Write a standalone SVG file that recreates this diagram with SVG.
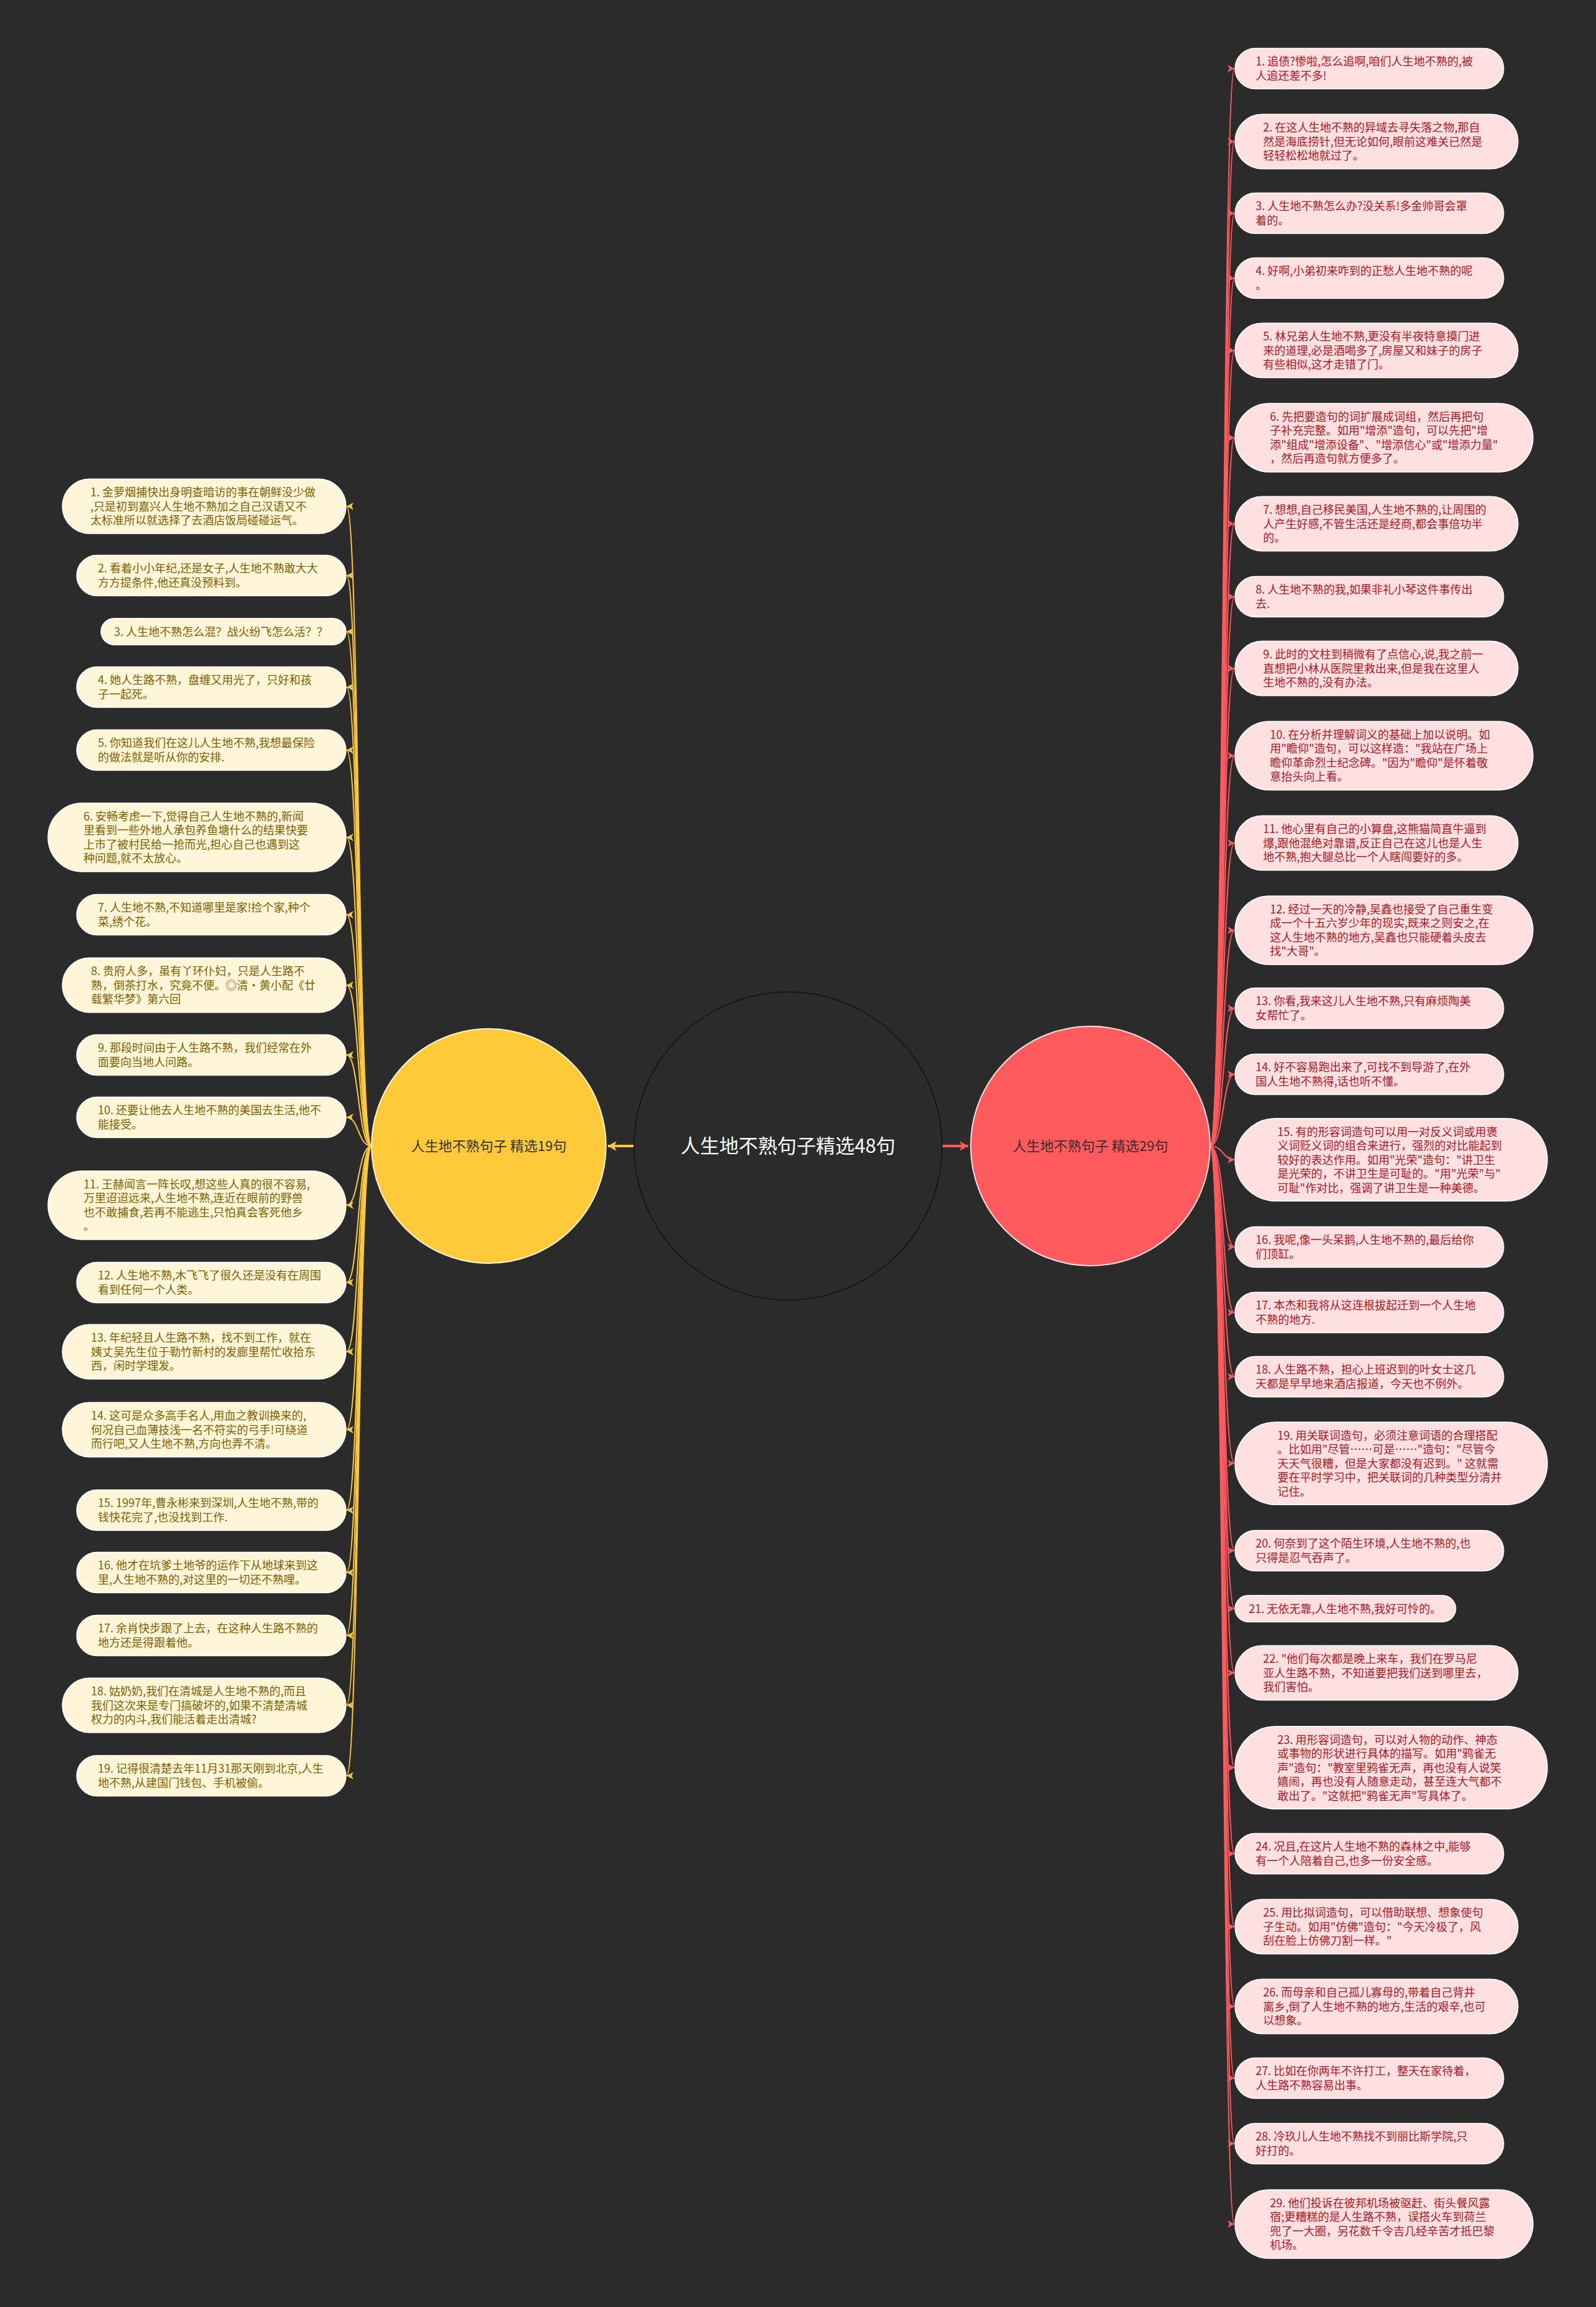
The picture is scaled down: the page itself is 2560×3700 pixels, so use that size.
<svg xmlns="http://www.w3.org/2000/svg" width="2560" height="3700" viewBox="0 0 2560 3700">
<defs>
<style>
text{font-family:"Noto Sans CJK SC","Noto Sans",sans-serif;}
.lt{font-size:18px;fill:#7f5f00;}
.rt{font-size:18px;fill:#b0161e;}
.lb{fill:#fff5d8;stroke:#ffffff;stroke-width:1.5;}
.rb{fill:#ffe0e0;stroke:#ffffff;stroke-width:1.5;}
.lc{fill:none;stroke:#ffc93c;stroke-width:2;marker-end:url(#ay);}
.rc{fill:none;stroke:#ff5a5f;stroke-width:2;marker-end:url(#ar);}
</style>
<marker id="ay" markerUnits="userSpaceOnUse" markerWidth="12" markerHeight="12" refX="11" refY="6" orient="auto"><path d="M0,0 L11,6 L0,12 L3,6 z" fill="#ffc93c"/></marker>
<marker id="ar" markerUnits="userSpaceOnUse" markerWidth="12" markerHeight="12" refX="11" refY="6" orient="auto"><path d="M0,0 L11,6 L0,12 L3,6 z" fill="#ff5a5f"/></marker>
<marker id="ay2" markerUnits="userSpaceOnUse" markerWidth="16" markerHeight="16" refX="14" refY="8" orient="auto"><path d="M0,0 L14,8 L0,16 L4,8 z" fill="#ffc93c"/></marker>
<marker id="ar2" markerUnits="userSpaceOnUse" markerWidth="16" markerHeight="16" refX="14" refY="8" orient="auto"><path d="M0,0 L14,8 L0,16 L4,8 z" fill="#ff5a5f"/></marker>
</defs>
<rect x="0" y="0" width="2560" height="3700" fill="#2b2b2b"/>

<g id="connectors">
<line x1="1017" y1="1838" x2="975" y2="1838" stroke="#ffc93c" stroke-width="4" marker-end="url(#ay2)"/>
<line x1="1511" y1="1838" x2="1553" y2="1838" stroke="#ff5a5f" stroke-width="4" marker-end="url(#ar2)"/>
<path class="lc" d="M596,1838 C574,1838 576,812 556,812"/>
<path class="lc" d="M596,1838 C574,1838 576,923 556,923"/>
<path class="lc" d="M596,1838 C574,1838 576,1013 556,1013"/>
<path class="lc" d="M596,1838 C574,1838 576,1102 556,1102"/>
<path class="lc" d="M596,1838 C574,1838 576,1203 556,1203"/>
<path class="lc" d="M596,1838 C574,1838 576,1343 556,1343"/>
<path class="lc" d="M596,1838 C574,1838 576,1467 556,1467"/>
<path class="lc" d="M596,1838 C574,1838 576,1580 556,1580"/>
<path class="lc" d="M596,1838 C574,1838 576,1692 556,1692"/>
<path class="lc" d="M596,1838 C574,1838 576,1792 556,1792"/>
<path class="lc" d="M596,1838 C574,1838 576,1933 556,1933"/>
<path class="lc" d="M596,1838 C574,1838 576,2057 556,2057"/>
<path class="lc" d="M596,1838 C574,1838 576,2168 556,2168"/>
<path class="lc" d="M596,1838 C574,1838 576,2293 556,2293"/>
<path class="lc" d="M596,1838 C574,1838 576,2422 556,2422"/>
<path class="lc" d="M596,1838 C574,1838 576,2522 556,2522"/>
<path class="lc" d="M596,1838 C574,1838 576,2623 556,2623"/>
<path class="lc" d="M596,1838 C574,1838 576,2735 556,2735"/>
<path class="lc" d="M596,1838 C574,1838 576,2848 556,2848"/>
<path class="rc" d="M1941,1838 C1963,1838 1961,110 1980,110"/>
<path class="rc" d="M1941,1838 C1963,1838 1961,227 1980,227"/>
<path class="rc" d="M1941,1838 C1963,1838 1961,342 1980,342"/>
<path class="rc" d="M1941,1838 C1963,1838 1961,446 1980,446"/>
<path class="rc" d="M1941,1838 C1963,1838 1961,562 1980,562"/>
<path class="rc" d="M1941,1838 C1963,1838 1961,702 1980,702"/>
<path class="rc" d="M1941,1838 C1963,1838 1961,840 1980,840"/>
<path class="rc" d="M1941,1838 C1963,1838 1961,957 1980,957"/>
<path class="rc" d="M1941,1838 C1963,1838 1961,1072 1980,1072"/>
<path class="rc" d="M1941,1838 C1963,1838 1961,1212 1980,1212"/>
<path class="rc" d="M1941,1838 C1963,1838 1961,1352 1980,1352"/>
<path class="rc" d="M1941,1838 C1963,1838 1961,1492 1980,1492"/>
<path class="rc" d="M1941,1838 C1963,1838 1961,1617 1980,1617"/>
<path class="rc" d="M1941,1838 C1963,1838 1961,1723 1980,1723"/>
<path class="rc" d="M1941,1838 C1963,1838 1961,1860 1980,1860"/>
<path class="rc" d="M1941,1838 C1963,1838 1961,2000 1980,2000"/>
<path class="rc" d="M1941,1838 C1963,1838 1961,2105 1980,2105"/>
<path class="rc" d="M1941,1838 C1963,1838 1961,2208 1980,2208"/>
<path class="rc" d="M1941,1838 C1963,1838 1961,2347 1980,2347"/>
<path class="rc" d="M1941,1838 C1963,1838 1961,2487 1980,2487"/>
<path class="rc" d="M1941,1838 C1963,1838 1961,2580 1980,2580"/>
<path class="rc" d="M1941,1838 C1963,1838 1961,2683 1980,2683"/>
<path class="rc" d="M1941,1838 C1963,1838 1961,2835 1980,2835"/>
<path class="rc" d="M1941,1838 C1963,1838 1961,2973 1980,2973"/>
<path class="rc" d="M1941,1838 C1963,1838 1961,3090 1980,3090"/>
<path class="rc" d="M1941,1838 C1963,1838 1961,3218 1980,3218"/>
<path class="rc" d="M1941,1838 C1963,1838 1961,3333 1980,3333"/>
<path class="rc" d="M1941,1838 C1963,1838 1961,3438 1980,3438"/>
<path class="rc" d="M1941,1838 C1963,1838 1961,3567 1980,3567"/>
</g>

<g id="root">
<circle cx="1264" cy="1838" r="247" fill="#2b2b2b" stroke="#111111" stroke-width="1.5"/>
<text x="1264" y="1849" text-anchor="middle" font-size="31" fill="#ffffff">人生地不熟句子精选48句</text>
</g>
<g id="branch-left">
<circle cx="784" cy="1838" r="188" fill="#ffca3a" stroke="#fff3d0" stroke-width="2"/>
<text x="784" y="1846" text-anchor="middle" font-size="22" fill="#333333">人生地不熟句子  精选19句</text>
</g>
<g id="branch-right">
<circle cx="1749" cy="1838" r="192" fill="#ff5b5f" stroke="#ffe0e0" stroke-width="2"/>
<text x="1749" y="1846" text-anchor="middle" font-size="22" fill="#3a2a2a">人生地不熟句子  精选29句</text>
</g>

<g id="l1"><rect class="lb" x="100" y="768.2" width="455" height="87.5" rx="43.7"/><text class="lt" x="145" y="796"><tspan x="145">1. 金萝烟捕快出身明查暗访的事在朝鲜没少做</tspan><tspan x="145" dy="22.5">,只是初到嘉兴人生地不熟加之自己汉语又不</tspan><tspan x="145" dy="22.5">太标准所以就选择了去酒店饭局碰碰运气。</tspan></text></g>
<g id="l2"><rect class="lb" x="123" y="890.5" width="432" height="65" rx="32.5"/><text class="lt" x="157" y="918.2"><tspan x="157">2. 看着小小年纪,还是女子,人生地不熟敢大大</tspan><tspan x="157" dy="22.5">方方提条件,他还真没预料到。</tspan></text></g>
<g id="l3"><rect class="lb" x="162" y="991.7" width="393" height="42.5" rx="21.2"/><text class="lt" x="183" y="1019.5">3. 人生地不熟怎么混？战火纷飞怎么活？？</text></g>
<g id="l4"><rect class="lb" x="123" y="1069.5" width="432" height="65" rx="32.5"/><text class="lt" x="157" y="1097.2"><tspan x="157">4. 她人生路不熟，盘缠又用光了，只好和孩</tspan><tspan x="157" dy="22.5">子一起死。</tspan></text></g>
<g id="l5"><rect class="lb" x="123" y="1170.5" width="432" height="65" rx="32.5"/><text class="lt" x="157" y="1198.2"><tspan x="157">5. 你知道我们在这儿人生地不熟,我想最保险</tspan><tspan x="157" dy="22.5">的做法就是听从你的安排.</tspan></text></g>
<g id="l6"><rect class="lb" x="77" y="1288" width="478" height="110" rx="55"/><text class="lt" x="134" y="1315.7"><tspan x="134">6. 安畅考虑一下,觉得自己人生地不熟的,新闻</tspan><tspan x="134" dy="22.5">里看到一些外地人承包养鱼塘什么的结果快要</tspan><tspan x="134" dy="22.5">上市了被村民给一抢而光,担心自己也遇到这</tspan><tspan x="134" dy="22.5">种问题,就不太放心。</tspan></text></g>
<g id="l7"><rect class="lb" x="123" y="1434.5" width="432" height="65" rx="32.5"/><text class="lt" x="157" y="1462.2"><tspan x="157">7. 人生地不熟,不知道哪里是家!捡个家,种个</tspan><tspan x="157" dy="22.5">菜,绣个花。</tspan></text></g>
<g id="l8"><rect class="lb" x="100" y="1536.2" width="455" height="87.5" rx="43.7"/><text class="lt" x="146" y="1564"><tspan x="146">8. 贵府人多，虽有丫环仆妇，只是人生路不</tspan><tspan x="146" dy="22.5">熟，倒茶打水，究竟不便。◎清·黄小配《廿</tspan><tspan x="146" dy="22.5">载繁华梦》第六回</tspan></text></g>
<g id="l9"><rect class="lb" x="123" y="1659.5" width="432" height="65" rx="32.5"/><text class="lt" x="157" y="1687.2"><tspan x="157">9. 那段时间由于人生路不熟，我们经常在外</tspan><tspan x="157" dy="22.5">面要向当地人问路。</tspan></text></g>
<g id="l10"><rect class="lb" x="123" y="1759.5" width="432" height="65" rx="32.5"/><text class="lt" x="157" y="1787.2"><tspan x="157">10. 还要让他去人生地不熟的美国去生活,他不</tspan><tspan x="157" dy="22.5">能接受。</tspan></text></g>
<g id="l11"><rect class="lb" x="77" y="1878" width="478" height="110" rx="55"/><text class="lt" x="134" y="1905.7"><tspan x="134">11. 王赫闻言一阵长叹,想这些人真的很不容易,</tspan><tspan x="134" dy="22.5">万里迢迢远来,人生地不熟,连近在眼前的野兽</tspan><tspan x="134" dy="22.5">也不敢捕食,若再不能逃生,只怕真会客死他乡</tspan><tspan x="134" dy="22.5">。</tspan></text></g>
<g id="l12"><rect class="lb" x="123" y="2024.5" width="432" height="65" rx="32.5"/><text class="lt" x="157" y="2052.2"><tspan x="157">12. 人生地不熟,木飞飞了很久还是没有在周围</tspan><tspan x="157" dy="22.5">看到任何一个人类。</tspan></text></g>
<g id="l13"><rect class="lb" x="100" y="2124.2" width="455" height="87.5" rx="43.7"/><text class="lt" x="146" y="2152"><tspan x="146">13. 年纪轻且人生路不熟，找不到工作，就在</tspan><tspan x="146" dy="22.5">姨丈吴先生位于勒竹新村的发廊里帮忙收拾东</tspan><tspan x="146" dy="22.5">西，闲时学理发。</tspan></text></g>
<g id="l14"><rect class="lb" x="100" y="2249.2" width="455" height="87.5" rx="43.7"/><text class="lt" x="146" y="2277"><tspan x="146">14. 这可是众多高手名人,用血之教训换来的,</tspan><tspan x="146" dy="22.5">何况自己血薄技浅一名不符实的弓手!可绕道</tspan><tspan x="146" dy="22.5">而行吧,又人生地不熟,方向也弄不清。</tspan></text></g>
<g id="l15"><rect class="lb" x="123" y="2389.5" width="432" height="65" rx="32.5"/><text class="lt" x="157" y="2417.2"><tspan x="157">15. 1997年,曹永彬来到深圳,人生地不熟,带的</tspan><tspan x="157" dy="22.5">钱快花完了,也没找到工作.</tspan></text></g>
<g id="l16"><rect class="lb" x="123" y="2489.5" width="432" height="65" rx="32.5"/><text class="lt" x="157" y="2517.2"><tspan x="157">16. 他才在坑爹土地爷的运作下从地球来到这</tspan><tspan x="157" dy="22.5">里,人生地不熟的,对这里的一切还不熟哩。</tspan></text></g>
<g id="l17"><rect class="lb" x="123" y="2590.5" width="432" height="65" rx="32.5"/><text class="lt" x="157" y="2618.2"><tspan x="157">17. 余肖快步跟了上去，在这种人生路不熟的</tspan><tspan x="157" dy="22.5">地方还是得跟着他。</tspan></text></g>
<g id="l18"><rect class="lb" x="100" y="2691.2" width="455" height="87.5" rx="43.7"/><text class="lt" x="146" y="2719"><tspan x="146">18. 姑奶奶,我们在清城是人生地不熟的,而且</tspan><tspan x="146" dy="22.5">我们这次来是专门搞破坏的,如果不清楚清城</tspan><tspan x="146" dy="22.5">权力的内斗,我们能活着走出清城?</tspan></text></g>
<g id="l19"><rect class="lb" x="123" y="2815.5" width="432" height="65" rx="32.5"/><text class="lt" x="157" y="2843.2"><tspan x="157">19. 记得很清楚去年11月31那天刚到北京,人生</tspan><tspan x="157" dy="22.5">地不熟,从建国门钱包、手机被偷。</tspan></text></g>

<g id="r1"><rect class="rb" x="1981" y="77.5" width="431" height="65" rx="32.5"/><text class="rt" y="105.2"><tspan x="2014">1. 追债?惨啦,怎么追啊,咱们人生地不熟的,被</tspan><tspan x="2014" dy="22.5">人追还差不多!</tspan></text></g>
<g id="r2"><rect class="rb" x="1981" y="183.2" width="454" height="87.5" rx="43.7"/><text class="rt" y="211"><tspan x="2026">2. 在这人生地不熟的异域去寻失落之物,那自</tspan><tspan x="2026" dy="22.5">然是海底捞针,但无论如何,眼前这难关已然是</tspan><tspan x="2026" dy="22.5">轻轻松松地就过了。</tspan></text></g>
<g id="r3"><rect class="rb" x="1981" y="309.5" width="431" height="65" rx="32.5"/><text class="rt" y="337.2"><tspan x="2014">3. 人生地不熟怎么办?没关系!多金帅哥会罩</tspan><tspan x="2014" dy="22.5">着的。</tspan></text></g>
<g id="r4"><rect class="rb" x="1981" y="413.5" width="431" height="65" rx="32.5"/><text class="rt" y="441.2"><tspan x="2014">4. 好啊,小弟初来咋到的正愁人生地不熟的呢</tspan><tspan x="2014" dy="22.5">。</tspan></text></g>
<g id="r5"><rect class="rb" x="1981" y="518.2" width="454" height="87.5" rx="43.7"/><text class="rt" y="546"><tspan x="2026">5. 林兄弟人生地不熟,更没有半夜特意摸门进</tspan><tspan x="2026" dy="22.5">来的道理,必是酒喝多了,房屋又和妹子的房子</tspan><tspan x="2026" dy="22.5">有些相似,这才走错了门。</tspan></text></g>
<g id="r6"><rect class="rb" x="1981" y="647" width="478" height="110" rx="55"/><text class="rt" y="674.7"><tspan x="2037">6. 先把要造句的词扩展成词组，然后再把句</tspan><tspan x="2037" dy="22.5">子补充完整。如用"增添"造句，可以先把"增</tspan><tspan x="2037" dy="22.5">添"组成"增添设备"、"增添信心"或"增添力量"</tspan><tspan x="2037" dy="22.5">，然后再造句就方便多了。</tspan></text></g>
<g id="r7"><rect class="rb" x="1981" y="796.2" width="454" height="87.5" rx="43.7"/><text class="rt" y="824"><tspan x="2026">7. 想想,自己移民美国,人生地不熟的,让周围的</tspan><tspan x="2026" dy="22.5">人产生好感,不管生活还是经商,都会事倍功半</tspan><tspan x="2026" dy="22.5">的。</tspan></text></g>
<g id="r8"><rect class="rb" x="1981" y="924.5" width="431" height="65" rx="32.5"/><text class="rt" y="952.2"><tspan x="2014">8. 人生地不熟的我,如果非礼小琴这件事传出</tspan><tspan x="2014" dy="22.5">去.</tspan></text></g>
<g id="r9"><rect class="rb" x="1981" y="1028.2" width="454" height="87.5" rx="43.7"/><text class="rt" y="1056"><tspan x="2026">9. 此时的文柱到稍微有了点信心,说,我之前一</tspan><tspan x="2026" dy="22.5">直想把小林从医院里救出来,但是我在这里人</tspan><tspan x="2026" dy="22.5">生地不熟的,没有办法。</tspan></text></g>
<g id="r10"><rect class="rb" x="1981" y="1157" width="478" height="110" rx="55"/><text class="rt" y="1184.7"><tspan x="2037">10. 在分析并理解词义的基础上加以说明。如</tspan><tspan x="2037" dy="22.5">用"瞻仰"造句，可以这样造："我站在广场上</tspan><tspan x="2037" dy="22.5">瞻仰革命烈士纪念碑。"因为"瞻仰"是怀着敬</tspan><tspan x="2037" dy="22.5">意抬头向上看。</tspan></text></g>
<g id="r11"><rect class="rb" x="1981" y="1308.2" width="454" height="87.5" rx="43.7"/><text class="rt" y="1336"><tspan x="2026">11. 他心里有自己的小算盘,这熊猫简直牛逼到</tspan><tspan x="2026" dy="22.5">爆,跟他混绝对靠谱,反正自己在这儿也是人生</tspan><tspan x="2026" dy="22.5">地不熟,抱大腿总比一个人瞎闯要好的多。</tspan></text></g>
<g id="r12"><rect class="rb" x="1981" y="1437" width="478" height="110" rx="55"/><text class="rt" y="1464.7"><tspan x="2037">12. 经过一天的冷静,吴鑫也接受了自己重生变</tspan><tspan x="2037" dy="22.5">成一个十五六岁少年的现实,既来之则安之,在</tspan><tspan x="2037" dy="22.5">这人生地不熟的地方,吴鑫也只能硬着头皮去</tspan><tspan x="2037" dy="22.5">找"大哥"。</tspan></text></g>
<g id="r13"><rect class="rb" x="1981" y="1584.5" width="431" height="65" rx="32.5"/><text class="rt" y="1612.2"><tspan x="2014">13. 你看,我来这儿人生地不熟,只有麻烦陶美</tspan><tspan x="2014" dy="22.5">女帮忙了。</tspan></text></g>
<g id="r14"><rect class="rb" x="1981" y="1690.5" width="431" height="65" rx="32.5"/><text class="rt" y="1718.2"><tspan x="2014">14. 好不容易跑出来了,可找不到导游了,在外</tspan><tspan x="2014" dy="22.5">国人生地不熟得,话也听不懂。</tspan></text></g>
<g id="r15"><rect class="rb" x="1981" y="1793.7" width="501" height="132.5" rx="66"/><text class="rt" y="1821.5"><tspan x="2049">15. 有的形容词造句可以用一对反义词或用褒</tspan><tspan x="2049" dy="22.5">义词贬义词的组合来进行，强烈的对比能起到</tspan><tspan x="2049" dy="22.5">较好的表达作用。如用"光荣"造句："讲卫生</tspan><tspan x="2049" dy="22.5">是光荣的，不讲卫生是可耻的。"用"光荣"与"</tspan><tspan x="2049" dy="22.5">可耻"作对比，强调了讲卫生是一种美德。</tspan></text></g>
<g id="r16"><rect class="rb" x="1981" y="1967.5" width="431" height="65" rx="32.5"/><text class="rt" y="1995.2"><tspan x="2014">16. 我呢,像一头呆鹅,人生地不熟的,最后给你</tspan><tspan x="2014" dy="22.5">们顶缸。</tspan></text></g>
<g id="r17"><rect class="rb" x="1981" y="2072.5" width="431" height="65" rx="32.5"/><text class="rt" y="2100.2"><tspan x="2014">17. 本杰和我将从这连根拔起迁到一个人生地</tspan><tspan x="2014" dy="22.5">不熟的地方.</tspan></text></g>
<g id="r18"><rect class="rb" x="1981" y="2175.5" width="431" height="65" rx="32.5"/><text class="rt" y="2203.2"><tspan x="2014">18. 人生路不熟，担心上班迟到的叶女士这几</tspan><tspan x="2014" dy="22.5">天都是早早地来酒店报道，今天也不例外。</tspan></text></g>
<g id="r19"><rect class="rb" x="1981" y="2280.7" width="501" height="132.5" rx="66"/><text class="rt" y="2308.5"><tspan x="2049">19. 用关联词造句，必须注意词语的合理搭配</tspan><tspan x="2049" dy="22.5">。比如用"尽管……可是……"造句："尽管今</tspan><tspan x="2049" dy="22.5">天天气很糟，但是大家都没有迟到。" 这就需</tspan><tspan x="2049" dy="22.5">要在平时学习中，把关联词的几种类型分清并</tspan><tspan x="2049" dy="22.5">记住。</tspan></text></g>
<g id="r20"><rect class="rb" x="1981" y="2454.5" width="431" height="65" rx="32.5"/><text class="rt" y="2482.2"><tspan x="2014">20. 何奈到了这个陌生环境,人生地不熟的,也</tspan><tspan x="2014" dy="22.5">只得是忍气吞声了。</tspan></text></g>
<g id="r21"><rect class="rb" x="1981" y="2558.7" width="354" height="42.5" rx="21.2"/><text class="rt" x="2003" y="2586.5">21. 无依无靠,人生地不熟,我好可怜的。</text></g>
<g id="r22"><rect class="rb" x="1981" y="2639.2" width="454" height="87.5" rx="43.7"/><text class="rt" y="2667"><tspan x="2026">22. "他们每次都是晚上来车，我们在罗马尼</tspan><tspan x="2026" dy="22.5">亚人生路不熟，不知道要把我们送到哪里去，</tspan><tspan x="2026" dy="22.5">我们害怕。</tspan></text></g>
<g id="r23"><rect class="rb" x="1981" y="2768.7" width="501" height="132.5" rx="66"/><text class="rt" y="2796.5"><tspan x="2049">23. 用形容词造句，可以对人物的动作、神态</tspan><tspan x="2049" dy="22.5">或事物的形状进行具体的描写。如用"鸦雀无</tspan><tspan x="2049" dy="22.5">声"造句："教室里鸦雀无声，再也没有人说笑</tspan><tspan x="2049" dy="22.5">嬉闹，再也没有人随意走动，甚至连大气都不</tspan><tspan x="2049" dy="22.5">敢出了。"这就把"鸦雀无声"写具体了。</tspan></text></g>
<g id="r24"><rect class="rb" x="1981" y="2940.5" width="431" height="65" rx="32.5"/><text class="rt" y="2968.2"><tspan x="2014">24. 况且,在这片人生地不熟的森林之中,能够</tspan><tspan x="2014" dy="22.5">有一个人陪着自己,也多一份安全感。</tspan></text></g>
<g id="r25"><rect class="rb" x="1981" y="3046.2" width="454" height="87.5" rx="43.7"/><text class="rt" y="3074"><tspan x="2026">25. 用比拟词造句，可以借助联想、想象使句</tspan><tspan x="2026" dy="22.5">子生动。如用"仿佛"造句："今天冷极了，风</tspan><tspan x="2026" dy="22.5">刮在脸上仿佛刀割一样。"</tspan></text></g>
<g id="r26"><rect class="rb" x="1981" y="3174.2" width="454" height="87.5" rx="43.7"/><text class="rt" y="3202"><tspan x="2026">26. 而母亲和自己孤儿寡母的,带着自己背井</tspan><tspan x="2026" dy="22.5">离乡,倒了人生地不熟的地方,生活的艰辛,也可</tspan><tspan x="2026" dy="22.5">以想象。</tspan></text></g>
<g id="r27"><rect class="rb" x="1981" y="3300.5" width="431" height="65" rx="32.5"/><text class="rt" y="3328.2"><tspan x="2014">27. 比如在你两年不许打工，整天在家待着，</tspan><tspan x="2014" dy="22.5">人生路不熟容易出事。</tspan></text></g>
<g id="r28"><rect class="rb" x="1981" y="3405.5" width="431" height="65" rx="32.5"/><text class="rt" y="3433.2"><tspan x="2014">28. 冷玖儿人生地不熟找不到丽比斯学院,只</tspan><tspan x="2014" dy="22.5">好打的。</tspan></text></g>
<g id="r29"><rect class="rb" x="1981" y="3512" width="478" height="110" rx="55"/><text class="rt" y="3539.7"><tspan x="2037">29. 他们投诉在彼邦机场被驱赶、街头餐风露</tspan><tspan x="2037" dy="22.5">宿;更糟糕的是人生路不熟，误搭火车到荷兰</tspan><tspan x="2037" dy="22.5">兜了一大圈，另花数千令吉几经辛苦才抵巴黎</tspan><tspan x="2037" dy="22.5">机场。</tspan></text></g>
</svg>
